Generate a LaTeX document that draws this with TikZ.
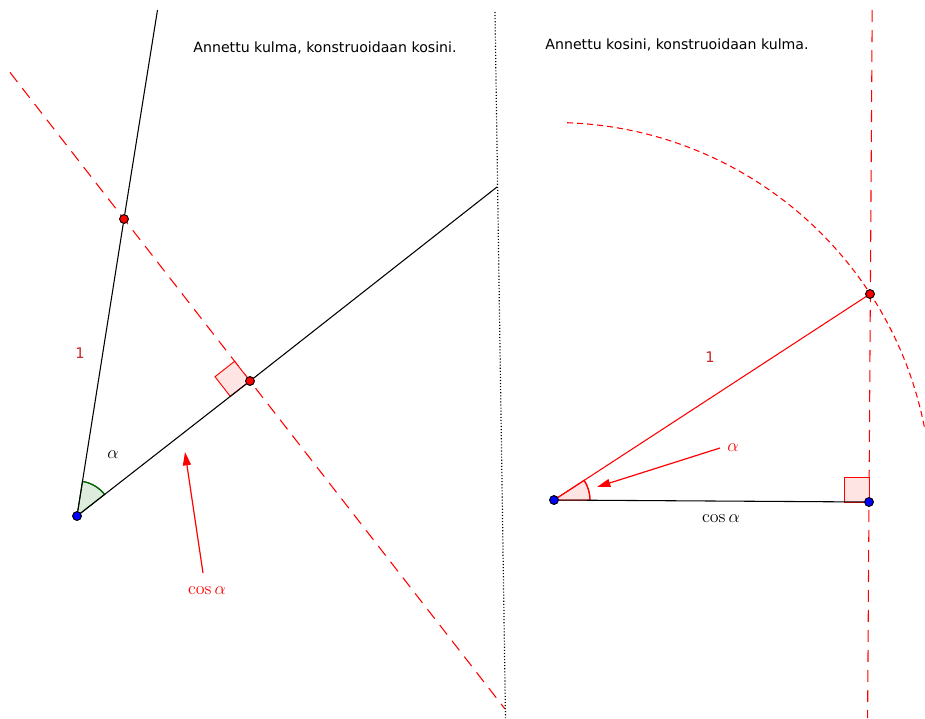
\documentclass[tikz,border=0pt]{standalone}
\usepackage{fontspec}
\newfontfamily\dejavu{DejaVu Sans}
\usetikzlibrary{arrows.meta}
\definecolor{gred}{RGB}{255,0,0}
\definecolor{lblred}{RGB}{200,40,40}
\definecolor{pinkfill}{RGB}{255,228,228}
\definecolor{greenfill}{RGB}{222,236,222}
\definecolor{greenline}{RGB}{0,100,0}
\tikzset{
  ptnode/.style={circle, draw=black, line width=0.6pt, inner sep=0pt, minimum size=6.5pt},
  bluept/.style={ptnode, fill=blue},
  redpt/.style={ptnode, fill=gred},
  blackline/.style={draw=black, line width=0.8pt},
  redline/.style={draw=gred, line width=0.8pt},
  reddash/.style={draw=gred, line width=0.8pt, dash pattern=on 9pt off 6pt},
  arcdash/.style={draw=gred, line width=0.8pt, dash pattern=on 4.5pt off 3pt},
  dotline/.style={draw=black, line width=0.9pt, dash pattern=on 0.8pt off 1.5pt},
  rightmark/.style={draw=gred, fill=pinkfill, line width=0.7pt},
  arrowred/.style={draw=gred, line width=0.9pt, -{Triangle[length=10pt,width=6pt]}},
  title/.style={font=\dejavu\fontsize{10.6}{12}\selectfont, inner sep=0pt},
  onelabel/.style={font=\dejavu\fontsize{11}{13}\selectfont, text=lblred, inner sep=0pt},
  mathlbl/.style={font=\fontsize{12}{14}\selectfont, inner sep=0pt, scale=1.12, transform shape}
}
\begin{document}
\begin{tikzpicture}[x=0.75pt,y=0.75pt]
\useasboundingbox (0,0) rectangle (925,-718);

% ---------------- left figure ----------------
\coordinate (Ltop) at (157.5,-10);
\coordinate (Lright) at (497,-187);
\coordinate (Dstart) at (10,-72.4);
\coordinate (Dend) at (505,-709);

\draw[reddash] (Dstart) -- (Dend);

% right-angle mark
\draw[rightmark] (250,-381) -- (230.3,-396.4) -- (215,-376.7) -- (234.6,-361.3) -- cycle;

% angle arc
\filldraw[fill=greenfill, draw=greenline, line width=0.8pt]
  (77,-516) -- ++(38:35) arc[start angle=38, end angle=81, radius=35] -- cycle;
\draw[greenline, line width=0.9pt] (77,-516) ++(38:35) arc[start angle=38, end angle=81, radius=35];

\node[bluept] (O) at (77,-516) {};
\node[redpt] (Q) at (124,-219) {};
\node[redpt] (P) at (250,-381) {};

\draw[blackline] (O) -- (Q) -- (Ltop);
\draw[blackline] (O) -- (P) -- (Lright);

\node[redpt] at (124,-219) {};
\node[redpt] at (250,-381) {};
\node[bluept] at (77,-516) {};

\node[mathlbl] (alphaL) at (113,-455) {$\alpha$};
\node[onelabel] (oneL) at (80,-353) {1};
\node[mathlbl, text=gred] (cosL) at (207,-591) {$\cos\alpha$};
\coordinate (arrLtip) at (185,-452);
\draw[arrowred] (203,-573) -- (arrLtip);

% dotted separator
\coordinate (Stop) at (495,-12);
\coordinate (Sbot) at (505.5,-718);
\draw[dotline] (Stop) -- (Sbot);

% ---------------- right figure ----------------
\coordinate (Vtop) at (872.2,-10);
\coordinate (Vbot) at (867.6,-718);
\draw[reddash] (Vtop) -- (Vbot);

% big dashed arc
\draw[arcdash] (554,-500) ++(88:377.5) arc[start angle=88, end angle=10.7, radius=377.5];

% right-angle mark
\draw[rightmark] (869,-502) -- (844,-502) -- (844,-477) -- (869,-477) -- cycle;

% angle arc
\filldraw[fill=pinkfill, draw=gred, line width=0.8pt]
  (554,-500) -- ++(-0.36:36) arc[start angle=-0.36, end angle=33.1, radius=36] -- cycle;
\draw[gred, line width=0.9pt] (554,-500) ++(-0.36:36) arc[start angle=-0.36, end angle=33.1, radius=36];

\node[bluept] (A) at (554,-500) {};
\node[bluept] (B) at (869,-502) {};
\node[redpt] (C) at (870,-294) {};

\draw[blackline] (A) -- (B);
\draw[redline] (A) -- (C);

\node[bluept] at (554,-500) {};
\node[bluept] at (869,-502) {};
\node[redpt] at (870,-294) {};

\node[mathlbl, text=gred] (alphaR) at (733,-448) {$\alpha$};
\node[mathlbl] (cosR) at (721,-519) {$\cos\alpha$};
\node[onelabel] (oneR) at (710,-357) {1};
\coordinate (arrRtip) at (597,-487);
\draw[arrowred] (720,-448) -- (arrRtip);

% titles
\node[title] (t1) at (325,-48) {Annettu kulma, konstruoidaan kosini.};
\node[title] (t2) at (677,-45) {Annettu kosini, konstruoidaan kulma.};
\end{tikzpicture}
\end{document}
